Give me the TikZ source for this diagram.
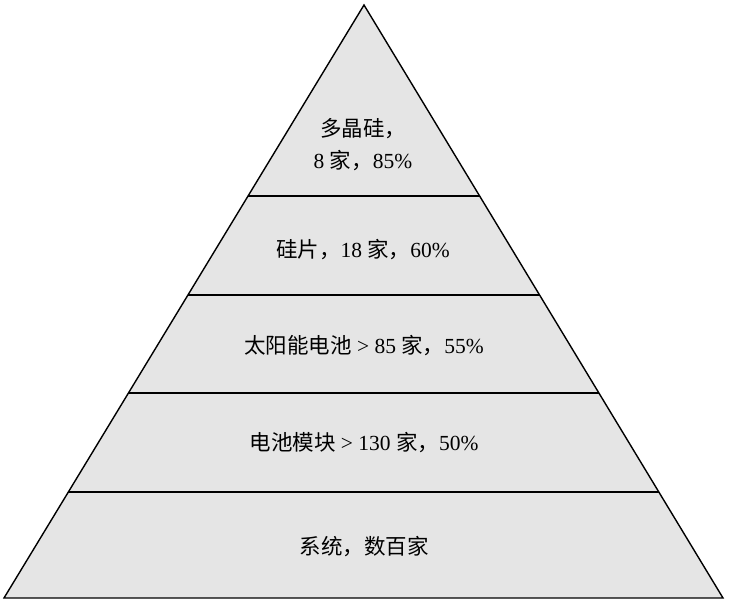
\documentclass[tikz,border=0pt]{standalone}
\usepackage{fontspec}
\setmainfont{Liberation Serif}
\newfontfamily\cjk{Noto Sans CJK SC}
\usetikzlibrary{calc}
\tikzset{
  band/.style={line width=1.4pt, draw=black},
  tier/.style={font=\fontsize{21.5}{25}\selectfont, align=center, inner sep=0pt}
}
\begin{document}
\begin{tikzpicture}[x=1pt, y=-1pt]
  \useasboundingbox (0,0) rectangle (730,604);
  \coordinate (A) at (364,5);
  \coordinate (L) at (4,598);
  \coordinate (R) at (723,598);
  % pyramid body
  \fill[gray!20] (A) -- (L) -- (R) -- cycle;
  % tier separators
  \foreach \t/\n in {0.678/a, 0.511/b, 0.3457/c, 0.1788/d} {
    \coordinate (\n l) at ($(L)!\t!(A)$);
    \coordinate (\n r) at ($(R)!\t!(A)$);
    \draw[band] (\n l) -- (\n r);
  }
  \draw[band, line join=miter] (A) -- (L) -- (R) -- cycle;
  % tier labels
  \node[tier] (t1) at (363,145) {{\cjk 多晶硅，}\\[7pt]8 {\cjk 家，}85\%};
  \node[tier] (t2) at (363,250) {{\cjk 硅片，}18 {\cjk 家，}60\%};
  \node[tier] (t3) at (364,346) {{\cjk 太阳能电池} {\textgreater} 85 {\cjk 家，}55\%};
  \node[tier] (t4) at (364,443) {{\cjk 电池模块} {\textgreater} 130 {\cjk 家，}50\%};
  \node[tier] (t5) at (364,547) {{\cjk 系统，数百家}};
\end{tikzpicture}
\end{document}
